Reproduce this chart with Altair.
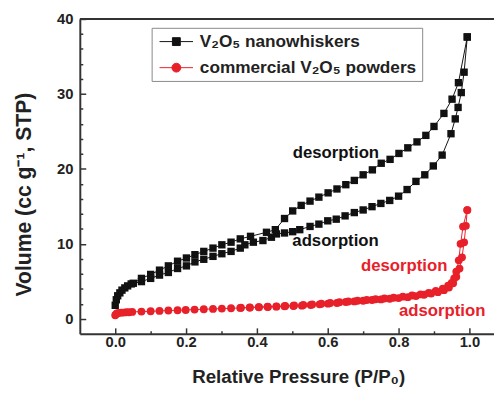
import altair as alt
import pandas as pd

# ---------------- data ----------------
NW = "V₂O₅ nanowhiskers"
CM = "commercial V₂O₅ powders"

bx_ads = [0.000, 0.003, 0.007, 0.013, 0.019, 0.027, 0.035, 0.045, 0.074, 0.100, 0.125, 0.150,
          0.176, 0.201, 0.225, 0.250, 0.276, 0.301, 0.327, 0.353, 0.366, 0.390, 0.417, 0.441,
          0.455, 0.478, 0.501, 0.521, 0.550, 0.575, 0.600, 0.624, 0.649, 0.675, 0.700, 0.725,
          0.750, 0.775, 0.800, 0.824, 0.849, 0.874, 0.898, 0.923, 0.948, 0.960, 0.968, 0.977,
          0.985, 0.994]
by_ads = [1.80, 2.54, 3.07, 3.46, 3.82, 4.12, 4.39, 4.65, 4.96, 5.39, 5.83, 6.18,
          6.71, 7.06, 7.59, 7.94, 8.33, 8.68, 8.99, 9.43, 9.87, 10.22, 10.44, 10.88,
          11.32, 11.45, 11.62, 11.89, 12.32, 12.63, 13.07, 13.29, 13.73, 14.17, 14.52, 14.96,
          15.39, 15.79, 16.36, 17.24, 18.33, 19.21, 20.39, 21.84, 24.69, 26.67, 28.20, 30.18,
          32.90, 37.60]

bx_des = [0.994, 0.969, 0.951, 0.928, 0.900, 0.877, 0.852, 0.826, 0.801, 0.776, 0.751, 0.726,
          0.700, 0.675, 0.651, 0.626, 0.601, 0.575, 0.550, 0.525, 0.501, 0.478, 0.452, 0.427,
          0.382, 0.353, 0.327, 0.301, 0.276, 0.250, 0.225, 0.201, 0.176, 0.150, 0.125, 0.100,
          0.074, 0.051]
by_des = [37.60, 31.50, 29.30, 27.40, 25.66, 24.47, 23.60, 22.81, 22.06, 21.27, 20.75, 19.87,
          19.21, 18.46, 17.89, 17.32, 16.80, 16.23, 15.70, 15.13, 14.39, 13.38, 11.89, 11.54,
          11.00, 10.66, 10.22, 9.87, 9.43, 8.99, 8.55, 8.11, 7.68, 7.06, 6.49, 5.92,
          5.39, 4.74]

rx_ads = [0.000, 0.003, 0.006, 0.011, 0.017, 0.023, 0.031, 0.039, 0.048, 0.074, 0.100, 0.125,
          0.150, 0.176, 0.199, 0.224, 0.250, 0.276, 0.301, 0.327, 0.353, 0.380, 0.406, 0.431,
          0.455, 0.478, 0.503, 0.527, 0.552, 0.577, 0.601, 0.626, 0.651, 0.675, 0.700, 0.725,
          0.750, 0.775, 0.800, 0.826, 0.849, 0.872, 0.892, 0.911, 0.928, 0.942, 0.954, 0.963,
          0.972, 0.979, 0.985, 0.990, 0.994]
ry_ads = [0.48, 0.66, 0.75, 0.79, 0.83, 0.83, 0.88, 0.88, 0.92, 0.96, 1.00, 1.05,
          1.10, 1.14, 1.18, 1.23, 1.27, 1.32, 1.36, 1.40, 1.45, 1.49, 1.54, 1.58,
          1.62, 1.67, 1.71, 1.75, 1.84, 1.93, 2.02, 2.11, 2.24, 2.32, 2.41, 2.50,
          2.59, 2.68, 2.76, 2.89, 3.03, 3.20, 3.38, 3.55, 3.82, 4.17, 4.74, 5.60,
          6.70, 8.20, 10.20, 12.40, 14.50]

rx_des = [0.994, 0.982, 0.975, 0.970, 0.963, 0.957, 0.950, 0.940, 0.925, 0.905, 0.885, 0.862,
          0.838, 0.812, 0.786, 0.760, 0.735, 0.710, 0.684, 0.658, 0.633, 0.607, 0.582, 0.556,
          0.531, 0.505, 0.480, 0.455, 0.430, 0.405, 0.380, 0.355]
ry_des = [14.50, 12.30, 10.00, 7.80, 6.30, 5.40, 4.80, 4.40, 4.00, 3.70, 3.45, 3.25,
          3.10, 2.95, 2.80, 2.70, 2.60, 2.50, 2.40, 2.30, 2.20, 2.10, 2.00, 1.92,
          1.85, 1.78, 1.72, 1.66, 1.61, 1.56, 1.51, 1.47]

ann_text = ["desorption", "adsorption", "desorption", "adsorption"]
ann_x = [0.623, 0.622, 0.816, 0.923]
ann_y = [22.1, 10.4, 7.0, 1.05]
ann_mat = [NW, NW, CM, CM]

x_ticks = [round(i * 0.1, 1) for i in range(0, 11)]
y_ticks = list(range(0, 41, 2))

# ---------------- table ----------------
rows = []
for mat, br, xs, ys in [(NW, "ads", bx_ads, by_ads), (NW, "des", bx_des, by_des),
                        (CM, "ads", rx_ads, ry_ads), (CM, "des", rx_des, ry_des)]:
    for i, (p, v) in enumerate(zip(xs, ys)):
        rows.append({"P": p, "V": v, "material": mat, "branch": mat + br, "order": i})
df = pd.DataFrame(rows)
ann = pd.DataFrame({"text": ann_text, "P": ann_x, "V": ann_y, "material": ann_mat})
top_df = pd.DataFrame({"V": [40]})

BLACK = "#111111"
RED = "#e8202a"
FONT = "Liberation Sans"
TXT = "#222222"
DOM = [NW, CM]
PAL = [BLACK, RED]

# legend symbols: a short line with the marker on it
SQ = "M-0.7,0H3.3M0.84,-0.47H1.78V0.47H0.84Z"
CI = "M-0.7,0H3.3M0.78,0A0.53,0.53,0,1,1,1.84,0A0.53,0.53,0,1,1,0.78,0Z"

legend = alt.Legend(
    title=None, orient="none", legendX=73, legendY=9,
    strokeColor="#888888", fillColor="white", padding=5, cornerRadius=0,
    labelFont=FONT, labelFontSize=17.5, labelFontWeight="bold", labelColor=TXT,
    labelLimit=500, symbolSize=289, labelOffset=26, rowPadding=8.5, symbolOpacity=1,
    symbolStrokeWidth=1,
)

xscale = alt.Scale(domain=[-0.1, 1.0694], nice=False, zero=False)
yscale = alt.Scale(domain=[-2, 40], nice=False, zero=False)

x_axis = alt.Axis(
    values=x_ticks, title="Relative Pressure (P/P₀)",
    labelExpr="round(datum.value*10) % 2 == 0 ? format(datum.value, '.1f') : ''",
    tickSize={"condition": {"test": "round(datum.value*10) % 2 == 0", "value": -6}, "value": -3},
    labelPadding=7, labelOverlap=False, grid=False, domainColor="#333333", domainWidth=2,
    tickColor="#333333", tickWidth=1.5,
    labelFont=FONT, labelFontSize=15, labelFontWeight="bold", labelColor=TXT,
    titleFont=FONT, titleFontSize=19, titleFontWeight="bold", titleColor=TXT,
    titleX=222, titleY=50, titleBaseline="alphabetic", titleAlign="center",
)
y_axis = alt.Axis(
    values=y_ticks, title="Volume (cc g⁻¹, STP)",
    labelExpr="round(datum.value) % 10 == 0 ? format(datum.value, 'd') : ''",
    tickSize={"condition": {"test": "round(datum.value) % 10 == 0", "value": -6}, "value": -3},
    labelPadding=13, labelOverlap=False, grid=False, domainColor="#333333", domainWidth=2,
    tickColor="#333333", tickWidth=1.5,
    labelFont=FONT, labelFontSize=15, labelFontWeight="bold", labelColor=TXT,
    titleFont=FONT, titleFontSize=21.5, titleFontWeight="bold", titleColor=TXT,
    titleX=-50, titleY=178, titleBaseline="alphabetic", titleAlign="center", titleAngle=270,
)

X = alt.X("P:Q", scale=xscale, axis=x_axis)
Y = alt.Y("V:Q", scale=yscale, axis=y_axis)
col = alt.Color("material:N", scale=alt.Scale(domain=DOM, range=PAL), legend=legend)

lines = alt.Chart(df).mark_line(strokeWidth=1).encode(
    x=X, y=Y, color=col, detail="branch:N", order="order:Q")

squares = alt.Chart(df).transform_filter(
    alt.datum.material == NW
).mark_square(size=56, opacity=1).encode(x=X, y=Y, color=col)

circles = alt.Chart(df).transform_filter(
    alt.datum.material == CM
).mark_circle(size=64, opacity=1).encode(x=X, y=Y, color=col)

# invisible layer that only gives the legend its line + marker symbols
legend_layer = alt.Chart(df).mark_point(filled=True, opacity=0).encode(
    x=X, y=Y, color=col,
    shape=alt.Shape("material:N", scale=alt.Scale(domain=DOM, range=[SQ, CI]), legend=legend),
)

top = alt.Chart(top_df).mark_rule(color="#333333", strokeWidth=2).encode(y=Y)

labels = alt.Chart(ann).mark_text(font=FONT, fontSize=17, fontWeight="bold",
                                  align="center", baseline="middle").encode(
    x=X, y=Y, color=col, text="text:N",
)

chart = alt.layer(lines, squares, circles, legend_layer, labels, top).properties(
    width=421, height=320,
    autosize=alt.AutoSizeParams(type="none"),
    padding={"left": 73, "top": 8, "right": 0, "bottom": 54},
).configure_view(stroke=None).configure_axis(labelOverlap=False)

chart.save("out.html", embed_options={"renderer": "svg", "actions": False})
